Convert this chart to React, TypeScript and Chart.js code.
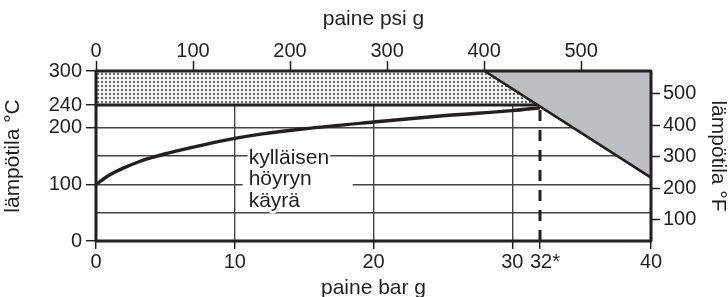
import React, { useEffect, useRef } from 'react';
import { Chart, registerables } from 'chart.js';

Chart.register(...registerables);

// ---- axis ticks ----
const barTicks = [0, 10, 20, 30, 32, 40];
const barTickLabels = ['0', '10', '20', '30', '\u200232*', '40'];
const barGrid = [10, 20, 30];
const psiTicks = [0, 100, 200, 300, 400, 500];
const celsiusTicks = [0, 50, 100, 150, 200, 240, 300];
const celsiusLabeled = [0, 100, 200, 240, 300];
const celsiusGrid = [50, 100, 150, 200];
const fahrenheitTicks = [100, 200, 300, 400, 500];

// ---- axis ranges ----
const barRange = [0, 40];
const psiRange = [0, 572];
const celsiusRange = [0, 300];
const fahrenheitRange = [32, 572];

// ---- saturated steam curve (bar g -> °C) ----
const curveBar = [0, 1, 2, 3, 4, 5, 6, 8, 10, 12, 15, 20, 25, 30, 32];
const curveC = [100, 117, 129, 139, 147, 154, 160, 171, 181, 189, 198, 210, 221, 230, 235];

// ---- 240 °C limit line ----
const limitBar = [0, 31.85];
const limitC = [240, 240];

// ---- pressure/temperature limit diagonal ----
const diagBar = [28, 40];
const diagC = [300, 112];

// ---- 32 bar dashed marker ----
const dashBar = [32, 32];
const dashC = [0, 237.5];

// ---- annotation ----
const noteLines = ['kylläisen', 'höyryn', 'käyrä'];
const noteAt = [11, 136];

const FONT = '"Liberation Sans", Arial, Helvetica, sans-serif';
const INK = '#231f20';
const GRID = '#444444';
const GRAY = '#bcbec1';

const pts = (xs: number[], ys: number[]) => xs.map((x, i) => ({ x, y: ys[i] }));

function makeDots(): CanvasPattern | string {
  const c = document.createElement('canvas');
  c.width = 4;
  c.height = 4;
  const g = c.getContext('2d');
  if (!g) return '#ddd';
  g.fillStyle = '#f0f0f0';
  g.fillRect(0, 0, 4, 4);
  g.fillStyle = '#6a6a6a';
  g.fillRect(1, 1, 2, 2);
  return g.createPattern(c, 'repeat') || '#ddd';
}

const overlay = {
  id: 'overlay',
  afterDatasetsDraw(chart: any) {
    const { ctx, chartArea: a, scales } = chart;
    ctx.save();
    // annotation
    const nx = scales.x.getPixelForValue(noteAt[0]);
    const ny = scales.y.getPixelForValue(noteAt[1]);
    ctx.font = `21px ${FONT}`;
    ctx.fillStyle = '#ffffff';
    ctx.fillRect(nx - 6, ny - 7, 110, 54);
    ctx.textBaseline = 'alphabetic';
    ctx.textAlign = 'left';
    ctx.lineJoin = 'round';
    noteLines.forEach((t, i) => {
      const yy = ny + i * 21.5;
      ctx.strokeStyle = '#ffffff';
      ctx.lineWidth = 5;
      ctx.strokeText(t, nx, yy);
      ctx.fillStyle = INK;
      ctx.fillText(t, nx, yy);
    });
    // frame
    ctx.strokeStyle = INK;
    ctx.lineWidth = 3;
    ctx.strokeRect(a.left, a.top, a.right - a.left, a.bottom - a.top);
    ctx.restore();
  },
};

export default function App() {
  const ref = useRef<HTMLCanvasElement>(null);

  useEffect(() => {
    document.body.style.margin = '0';
    const canvas = ref.current;
    if (!canvas) return;
    const tickFont = { family: FONT, size: 20, lineHeight: 1 };
    const titleFont = { family: FONT, size: 21, lineHeight: 1 };
    const dots = makeDots();

    const chart = new Chart(canvas, {
      type: 'line',
      data: {
        datasets: [
          {
            data: pts(limitBar, limitC),
            borderColor: INK,
            borderWidth: 3,
            backgroundColor: dots as any,
            fill: 'end',
            pointRadius: 0,
            order: 6,
          },
          {
            data: pts(diagBar, diagC),
            borderColor: INK,
            borderWidth: 2.6,
            backgroundColor: GRAY,
            fill: 'end',
            pointRadius: 0,
            order: 5,
          },
          {
            data: pts(curveBar, curveC),
            borderColor: INK,
            borderWidth: 3.4,
            fill: false,
            pointRadius: 0,
            cubicInterpolationMode: 'monotone',
            order: 3,
          },
          {
            data: pts(dashBar, dashC),
            borderColor: INK,
            borderWidth: 3,
            borderDash: [11, 9],
            fill: false,
            pointRadius: 0,
            order: 2,
          },
        ],
      },
      options: {
        responsive: false,
        animation: false,
        events: [],
        layout: { padding: 0 },
        plugins: { legend: { display: false }, tooltip: { enabled: false } },
        scales: {
          x: {
            type: 'linear',
            position: 'bottom',
            min: barRange[0],
            max: barRange[1],
            afterBuildTicks: (s: any) => { s.ticks = barTicks.map((value) => ({ value })); },
            afterFit: (s: any) => { s.height = 56; },
            ticks: {
              font: tickFont,
              color: INK,
              padding: 3,
              maxRotation: 0,
              minRotation: 0,
              autoSkip: false,
              callback: (v: any) => barTickLabels[barTicks.indexOf(Number(v))] ?? '',
            },
            grid: {
              color: (c: any) => (barGrid.includes(c.tick?.value) ? GRID : 'transparent'),
              lineWidth: 1.4,
              tickLength: 8,
              tickColor: INK,
              tickWidth: 1.5,
            },
            border: { display: false },
            title: { display: true, text: 'paine bar g', font: titleFont, color: INK, padding: { top: 0, bottom: -2 } },
          },
          x2: {
            type: 'linear',
            position: 'top',
            min: psiRange[0],
            max: psiRange[1],
            afterBuildTicks: (s: any) => { s.ticks = psiTicks.map((value) => ({ value })); },
            afterFit: (s: any) => { s.height = 71; },
            ticks: {
              font: tickFont,
              color: INK,
              padding: 0,
              maxRotation: 0,
              minRotation: 0,
              autoSkip: false,
              callback: (v: any) => String(v),
            },
            grid: { drawOnChartArea: false, tickLength: 10, tickColor: INK, tickWidth: 1.5, color: INK },
            border: { display: false },
            title: { display: true, text: 'paine psi g', font: titleFont, color: INK, padding: { top: 9, bottom: 0 } },
          },
          y: {
            type: 'linear',
            position: 'left',
            min: celsiusRange[0],
            max: celsiusRange[1],
            afterBuildTicks: (s: any) => { s.ticks = celsiusTicks.map((value) => ({ value })); },
            afterFit: (s: any) => { s.width = 96; },
            ticks: {
              font: tickFont,
              color: INK,
              padding: 4,
              autoSkip: false,
              callback: (v: any) => (celsiusLabeled.includes(Number(v)) ? String(v) : ''),
            },
            grid: {
              color: (c: any) => (celsiusGrid.includes(c.tick?.value) ? GRID : 'transparent'),
              lineWidth: 1.4,
              tickLength: 10,
              tickColor: (c: any) => (celsiusLabeled.includes(c.tick?.value) ? INK : 'transparent'),
              tickWidth: 1.5,
            },
            border: { display: false },
            title: { display: true, text: 'lämpötila °C', font: titleFont, color: INK, padding: { top: 3, bottom: 0 } },
          },
          y2: {
            type: 'linear',
            position: 'right',
            min: fahrenheitRange[0],
            max: fahrenheitRange[1],
            afterBuildTicks: (s: any) => { s.ticks = fahrenheitTicks.map((value) => ({ value })); },
            afterFit: (s: any) => { s.width = 77; },
            ticks: {
              font: tickFont,
              color: INK,
              padding: 3,
              autoSkip: false,
              callback: (v: any) => String(v),
            },
            grid: { drawOnChartArea: false, tickLength: 9, tickColor: INK, tickWidth: 1.5, color: INK },
            border: { display: false },
            title: { display: true, text: 'lämpötila °F', font: titleFont, color: INK, padding: { top: 0, bottom: 0 } },
          },
        },
      } as any,
      plugins: [overlay],
    });
    return () => chart.destroy();
  }, []);

  return (
    <div style={{ width: 728, height: 297 }}>
      <canvas ref={ref} width={728} height={297} style={{ display: 'block' }} />
    </div>
  );
}
